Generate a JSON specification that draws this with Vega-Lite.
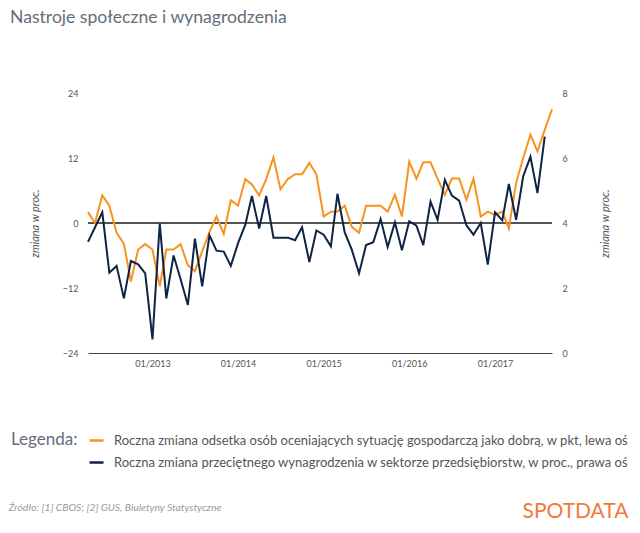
{
  "$schema": "https://vega.github.io/schema/vega-lite/v6.json",
  "autosize": {"type": "none"},
  "width": 464,
  "height": 260,
  "padding": {"left": 88, "top": 93, "right": 88, "bottom": 180},
  "background": "white",
  "title": {
    "text": "Nastroje społeczne i wynagrodzenia",
    "anchor": "start",
    "frame": "group",
    "dx": -78,
    "offset": 62,
    "fontSize": 17.6,
    "fontWeight": "normal",
    "color": "#646e7b"
  },
  "data": {
    "values": [
      {"date": "2012/04/01", "sentiment": 2.0, "wage": 3.42},
      {"date": "2012/05/01", "sentiment": 0.0, "wage": 3.87},
      {"date": "2012/06/01", "sentiment": 5.1, "wage": 4.33},
      {"date": "2012/07/01", "sentiment": 3.2, "wage": 2.47},
      {"date": "2012/08/01", "sentiment": -1.8, "wage": 2.68},
      {"date": "2012/09/01", "sentiment": -3.8, "wage": 1.68},
      {"date": "2012/10/01", "sentiment": -10.8, "wage": 2.83},
      {"date": "2012/11/01", "sentiment": -4.9, "wage": 2.73},
      {"date": "2012/12/01", "sentiment": -3.9, "wage": 2.45},
      {"date": "2013/01/01", "sentiment": -4.9, "wage": 0.42},
      {"date": "2013/02/01", "sentiment": -11.7, "wage": 3.98},
      {"date": "2013/03/01", "sentiment": -4.9, "wage": 1.68},
      {"date": "2013/04/01", "sentiment": -4.9, "wage": 3.0},
      {"date": "2013/05/01", "sentiment": -3.9, "wage": 2.27},
      {"date": "2013/06/01", "sentiment": -7.8, "wage": 1.48},
      {"date": "2013/07/01", "sentiment": -8.9, "wage": 3.52},
      {"date": "2013/08/01", "sentiment": -5.2, "wage": 2.05},
      {"date": "2013/09/01", "sentiment": -1.7, "wage": 3.62},
      {"date": "2013/10/01", "sentiment": 1.2, "wage": 3.15},
      {"date": "2013/11/01", "sentiment": -2.0, "wage": 3.12},
      {"date": "2013/12/01", "sentiment": 4.2, "wage": 2.68},
      {"date": "2014/01/01", "sentiment": 3.2, "wage": 3.38},
      {"date": "2014/02/01", "sentiment": 8.1, "wage": 3.95},
      {"date": "2014/03/01", "sentiment": 7.1, "wage": 4.83},
      {"date": "2014/04/01", "sentiment": 5.1, "wage": 3.83},
      {"date": "2014/05/01", "sentiment": 8.1, "wage": 4.83},
      {"date": "2014/06/01", "sentiment": 12.1, "wage": 3.55},
      {"date": "2014/07/01", "sentiment": 6.2, "wage": 3.55},
      {"date": "2014/08/01", "sentiment": 8.1, "wage": 3.55},
      {"date": "2014/09/01", "sentiment": 9.0, "wage": 3.47},
      {"date": "2014/10/01", "sentiment": 9.0, "wage": 3.87},
      {"date": "2014/11/01", "sentiment": 11.1, "wage": 2.8},
      {"date": "2014/12/01", "sentiment": 9.0, "wage": 3.77},
      {"date": "2015/01/01", "sentiment": 1.2, "wage": 3.64},
      {"date": "2015/02/01", "sentiment": 2.1, "wage": 3.28},
      {"date": "2015/03/01", "sentiment": 2.1, "wage": 4.9},
      {"date": "2015/04/01", "sentiment": 3.2, "wage": 3.71},
      {"date": "2015/05/01", "sentiment": -0.7, "wage": 3.18},
      {"date": "2015/06/01", "sentiment": -1.8, "wage": 2.45},
      {"date": "2015/07/01", "sentiment": 3.2, "wage": 3.32},
      {"date": "2015/08/01", "sentiment": 3.2, "wage": 3.41},
      {"date": "2015/09/01", "sentiment": 3.2, "wage": 4.12},
      {"date": "2015/10/01", "sentiment": 2.1, "wage": 3.26},
      {"date": "2015/11/01", "sentiment": 5.2, "wage": 4.02},
      {"date": "2015/12/01", "sentiment": 1.2, "wage": 3.16},
      {"date": "2016/01/01", "sentiment": 11.3, "wage": 4.05},
      {"date": "2016/02/01", "sentiment": 8.2, "wage": 3.92},
      {"date": "2016/03/01", "sentiment": 11.2, "wage": 3.32},
      {"date": "2016/04/01", "sentiment": 11.2, "wage": 4.66},
      {"date": "2016/05/01", "sentiment": 8.2, "wage": 4.1},
      {"date": "2016/06/01", "sentiment": 5.2, "wage": 5.33},
      {"date": "2016/07/01", "sentiment": 8.2, "wage": 4.84},
      {"date": "2016/08/01", "sentiment": 8.2, "wage": 4.69},
      {"date": "2016/09/01", "sentiment": 4.3, "wage": 3.93},
      {"date": "2016/10/01", "sentiment": 8.2, "wage": 3.64},
      {"date": "2016/11/01", "sentiment": 1.2, "wage": 4.0},
      {"date": "2016/12/01", "sentiment": 2.1, "wage": 2.72},
      {"date": "2017/01/01", "sentiment": 1.5, "wage": 4.33},
      {"date": "2017/02/01", "sentiment": 2.1, "wage": 4.08},
      {"date": "2017/03/01", "sentiment": -1.0, "wage": 5.2},
      {"date": "2017/04/01", "sentiment": 7.4, "wage": 4.1},
      {"date": "2017/05/01", "sentiment": 12.0, "wage": 5.43},
      {"date": "2017/06/01", "sentiment": 16.3, "wage": 6.04},
      {"date": "2017/07/01", "sentiment": 13.2, "wage": 4.92},
      {"date": "2017/08/01", "sentiment": 17.2, "wage": 6.66},
      {"date": "2017/09/01", "sentiment": 21.0, "wage": null}
    ]
  },
  "layer": [
    {
      "layer": [
        {
          "mark": {"type": "rule", "color": "#555555", "strokeWidth": 1},
          "encoding": {"y": {"datum": 0}}
        },
        {
          "mark": {"type": "line", "strokeWidth": 2},
          "encoding": {
            "x": {
              "field": "date",
              "type": "temporal",
              "scale": {"domain": [{"year": 2012, "month": 4, "date": 1}, {"year": 2017, "month": 9, "date": 1}]},
              "axis": {
                "orient": "bottom",
                "format": "%m/%Y",
                "values": [
                  {"year": 2013, "month": 1, "date": 1},
                  {"year": 2014, "month": 1, "date": 1},
                  {"year": 2015, "month": 1, "date": 1},
                  {"year": 2016, "month": 1, "date": 1},
                  {"year": 2017, "month": 1, "date": 1}
                ],
                "grid": false,
                "ticks": false,
                "domainColor": "#444444",
                "labelFontSize": 9,
                "labelColor": "#555555",
                "labelPadding": 6,
                "title": "Źródło: [1] CBOS; [2] GUS, Biuletyny Statystyczne",
                "titleX": -80,
                "titleY": 157,
                "titleAlign": "left",
                "titleAnchor": "start",
                "titleBaseline": "alphabetic",
                "titleFontSize": 10.3,
                "titleFontStyle": "italic",
                "titleFontWeight": "normal",
                "titleColor": "#9a9a9a"
              }
            },
            "y": {
              "field": "sentiment",
              "type": "quantitative",
              "scale": {"domain": [-24, 24], "nice": false},
              "axis": {
                "values": [-24, -12, 0, 12, 24],
                "grid": false,
                "ticks": false,
                "domain": false,
                "labelFontSize": 9,
                "labelColor": "#555555",
                "labelPadding": 10,
                "title": "zmiana w proc.",
                "titleX": -53,
                "titleY": 130,
                "titleAngle": -90,
                "titleAlign": "center",
                "titleBaseline": "middle",
                "titleFontSize": 11,
                "titleFontStyle": "italic",
                "titleFontWeight": "normal",
                "titleColor": "#555555"
              }
            },
            "color": {
              "datum": "Roczna zmiana odsetka osób oceniających sytuację gospodarczą jako dobrą, w pkt, lewa oś",
              "legend": {"title": "Legenda:"}
            }
          }
        }
      ]
    },
    {
      "mark": {"type": "line", "strokeWidth": 2},
      "encoding": {
        "x": {
          "field": "date",
          "type": "temporal",
          "axis": {
            "orient": "top",
            "labels": false,
            "ticks": false,
            "domain": false,
            "grid": false,
            "title": "SPOTDATA",
            "titleX": 434,
            "titleY": 424,
            "titleAlign": "left",
            "titleAnchor": "start",
            "titleBaseline": "alphabetic",
            "titleFontSize": 21,
            "titleFontWeight": "normal",
            "titleColor": "#f07a3c"
          }
        },
        "y": {
          "field": "wage",
          "type": "quantitative",
          "scale": {"domain": [0, 8], "nice": false},
          "axis": {
            "orient": "right",
            "values": [0, 2, 4, 6, 8],
            "grid": false,
            "ticks": false,
            "domain": false,
            "labelFontSize": 9,
            "labelColor": "#555555",
            "labelPadding": 10,
            "title": "zmiana w proc.",
            "titleX": 53,
            "titleY": 130,
            "titleAngle": -90,
            "titleAlign": "center",
            "titleBaseline": "middle",
            "titleFontSize": 11,
            "titleFontStyle": "italic",
            "titleFontWeight": "normal",
            "titleColor": "#555555"
          }
        },
        "color": {
          "datum": "Roczna zmiana przeciętnego wynagrodzenia w sektorze przedsiębiorstw, w proc., prawa oś"
        }
      }
    }
  ],
  "resolve": {"scale": {"y": "independent"}, "axis": {"x": "independent"}},
  "config": {
    "font": "Lato",
    "view": {"stroke": null},
    "axisRight": {"titleColor": "#555555", "labelColor": "#555555"},
    "axisLeft": {"titleColor": "#555555", "labelColor": "#555555"},
    "range": {"category": ["#f7931e", "#0e2444"]},
    "legend": {
      "orient": "none",
      "legendX": -77,
      "legendY": 339,
      "titleOrient": "left",
      "titleAnchor": "start",
      "titleFontSize": 17,
      "titleFontWeight": "normal",
      "titleColor": "#646e7b",
      "titlePadding": 10,
      "labelFontSize": 13,
      "labelColor": "#555555",
      "labelLimit": 1000,
      "labelOffset": 9,
      "symbolType": "stroke",
      "symbolStrokeWidth": 2.5,
      "symbolSize": 196,
      "rowPadding": 6,
      "direction": "vertical"
    }
  }
}
